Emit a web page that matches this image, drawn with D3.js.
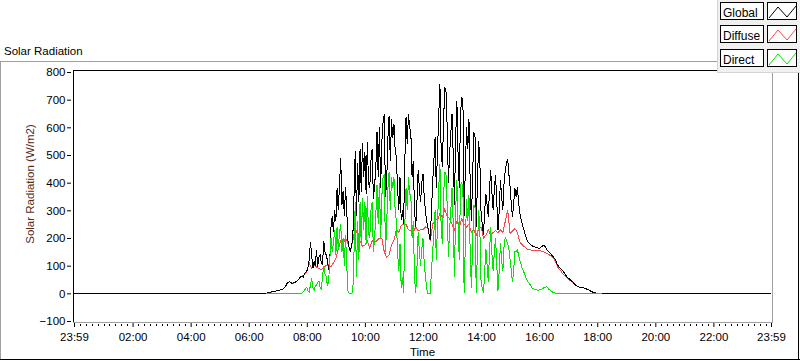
<!DOCTYPE html>
<html>
<head>
<meta charset="utf-8">
<script src="https://cdn.jsdelivr.net/npm/d3@7"></script>
<style>
  body { margin: 0; background: #fff; }
  svg { display: block; font-family: "Liberation Sans", Arial, sans-serif; }
</style>
</head>
<body>
<svg id="chart" width="800" height="361"></svg>
<script>
// all series start at 06:35; global and direct are logged every 2.5 min, diffuse every 5 min
const startMinute = 6 * 60 + 35;
const fastStep = 2.5;
const slowStep = 5;

const globalValues = [
    0, 1, 2, 3, 4, 5, 6, 7, 8, 9,
    10, 11, 12, 13, 14, 18, 22, 30, 38, 40, 42, 38, 36, 40, 38, 42, 45, 50, 55, 60, 62, 58, 72, 76,                   // 07:00
    80, 95, 120, 186, 140, 90, 115, 100, 157, 96, 130, 140, 110, 105, 190, 150, 139, 120, 85, 120, 240, 280, 220, 300,   // 08:00
    260, 380, 300, 390, 488, 320, 370, 280, 385, 300, 190, 165, 155, 170, 200, 350, 516, 280, 470, 330, 520, 366, 545, 420, // 09:00
    510, 360, 546, 400, 380, 480, 523, 340, 390, 450, 582, 420, 600, 380, 546, 620, 648, 350, 400, 560, 642, 480, 630, 560, // 10:00
    612, 520, 492, 380, 300, 420, 265, 300, 250, 480, 636, 540, 648, 600, 576, 420, 480, 300, 240, 330, 444, 380, 330, 400, // 11:00
    432, 350, 300, 260, 240, 215, 192, 300, 400, 480, 564, 380, 516, 640, 756, 520, 456, 620, 744, 732, 600, 400, 500, 580, // 12:00
    648, 500, 320, 560, 696, 500, 380, 650, 708, 696, 280, 450, 600, 520, 630, 400, 260, 420, 582, 564, 240, 400, 552, 480, // 13:00
    288, 250, 210, 300, 360, 320, 276, 380, 444, 360, 300, 380, 426, 330, 228, 300, 408, 350, 300, 400, 444, 470, 486, 430, // 14:00
    384, 320, 276, 330, 380, 350, 384, 330, 290, 270, 252, 235, 220, 205, 192, 185, 180, 176, 172, 170, 168, 166, 165, 164, // 15:00
    163, 165, 168, 172, 174, 168, 160, 155, 150, 145, 140, 136, 130, 124, 115, 105, 98, 92, 88, 84, 78, 72, 65, 60,         // 16:00
    55, 52, 48, 44, 40, 35, 30, 27, 24, 23, 22, 21, 20, 19, 18, 16, 14, 12, 10, 7, 5, 3, 2, 1,                              // 17:00
    0, 0, 0, 0, 0
];

const directValues = [
    0, 0, 0, 0, 0, 0, 0, 0, 0, 0,
    0, 0, 0, 0, 0, 0, 0, 0, 0, 0, 0, 0, 0, 0, 0, 0, 0, 0, 0, 0, 0, 6, 10, 18,
    20, 8, 5, 30, 55, 20, 10, 25, 30, 40, 45, 20, 15, 60, 100, 70, 60, 30, 40, 120, 200, 150, 180, 230,
    140, 240, 160, 220, 252, 150, 200, 100, 210, 100, 10, 0, 0, 0, 5, 150, 330, 60, 260, 120, 330, 170, 345, 230,
    330, 180, 350, 220, 200, 300, 330, 150, 200, 280, 390, 250, 400, 200, 350, 420, 430, 150, 250, 380, 440, 300, 420, 380,
    420, 300, 260, 150, 80, 180, 20, 60, 0, 250, 380, 300, 420, 360, 350, 200, 260, 60, 0, 90, 220, 150, 100, 160,
    200, 110, 60, 20, 0, 0, 0, 80, 150, 220, 300, 120, 250, 380, 468, 240, 180, 350, 440, 430, 320, 130, 230, 300,
    380, 250, 60, 300, 408, 250, 120, 390, 400, 380, 0, 180, 340, 260, 354, 150, 20, 180, 320, 310, 0, 160, 300, 230,
    40, 20, 0, 80, 160, 100, 40, 150, 240, 140, 80, 150, 200, 100, 10, 80, 180, 120, 80, 170, 204, 190, 180, 160,
    120, 80, 40, 90, 150, 150, 156, 140, 120, 105, 90, 80, 70, 58, 48, 40, 35, 28, 20, 18, 15, 13, 12, 12,
    12, 13, 15, 18, 20, 22, 24, 20, 15, 12, 8, 5, 2, 1, 0, 0, 0, 0, 0, 0, 0, 0, 0, 0,
    0, 0, 0, 0, 0, 0, 0, 0, 0, 0, 0, 0, 0, 0, 0, 0, 0, 0, 0, 0, 0, 0, 0, 0,
    0, 0, 0, 0, 0
];

const diffuseValues = [
    0, 2, 4, 6, 8,
    10, 12, 14, 22, 38, 42, 36, 38, 45, 55, 62, 68,             // 07:00
    78, 110, 90, 100, 95, 90, 85, 95, 100, 103, 96, 110,         // 08:00
    127, 160, 190, 175, 200, 180, 150, 190, 235, 215, 190, 170,  // 09:00
    175, 190, 165, 190, 185, 190, 200, 200, 150, 130, 140, 175,  // 10:00
    190, 230, 220, 245, 250, 250, 230, 225, 220, 240, 225, 230,  // 11:00
    230, 240, 235, 190, 250, 264, 266, 288, 276, 304, 280, 270,  // 12:00
    250, 230, 260, 240, 270, 250, 240, 250, 220, 230, 210, 230,  // 13:00
    240, 200, 210, 230, 210, 220, 226, 218, 230, 220, 260, 300,  // 14:00
    216, 225, 234, 220, 186, 175, 168, 160, 158, 156, 156, 155,  // 15:00
    155, 152, 150, 145, 140, 135, 126, 108, 90, 80, 68, 60,      // 16:00
    52, 45, 38, 30, 24, 22, 20, 18, 14, 10, 5, 2,                // 17:00
    0, 0, 0
];

// global sensor reads zero through the night, at both ends of the day
const nightValue = 0;

const seriesNames = ['Global', 'Diffuse', 'Direct'];
const seriesColors = ['#000000', '#ff4646', '#00e600'];

const yTicks = [-100, 0, 100, 200, 300, 400, 500, 600, 700, 800];
const xTickMinutes = [-1, 120, 240, 360, 480, 600, 720, 840, 960, 1080, 1200, 1320, 1439];
const xTickLabels = ['23:59', '02:00', '04:00', '06:00', '08:00', '10:00', '12:00',
    '14:00', '16:00', '18:00', '20:00', '22:00', '23:59'];

const svg = d3.select('#chart');
const textColor = '#000000';

const xScale = d3.scaleLinear().domain([-1, 1439]).range([74, 771]);
const yScale = d3.scaleLinear().domain([-100, 800]).range([321, 72]);

function toPoints(values, step) {
    return values.map((v, i) => ({ t: startMinute + i * step, v: v }));
}

drawFrame();
drawAxes();
drawSeries();
drawLegend();

function drawFrame() {
    svg.append('line').attr('x1', 0).attr('x2', 718).attr('y1', 61.5).attr('y2', 61.5).attr('stroke', '#a0a0a0');
    svg.append('line').attr('x1', 0.5).attr('x2', 0.5).attr('y1', 61).attr('y2', 360).attr('stroke', '#a0a0a0');
    svg.append('line').attr('x1', 0).attr('x2', 800).attr('y1', 359.5).attr('y2', 359.5).attr('stroke', '#000');
    svg.append('line').attr('x1', 798.5).attr('x2', 798.5).attr('y1', 61).attr('y2', 360).attr('stroke', '#000');

    svg.append('text')
        .text('Solar Radiation')
        .attr('x', 4)
        .attr('y', 55)
        .attr('font-size', 11.5)
        .attr('fill', textColor);
}

function drawAxes() {
    // plot area border: dark on top/left, grey on bottom/right
    svg.append('line').attr('x1', 73.5).attr('x2', 73.5).attr('y1', 70).attr('y2', 323).attr('stroke', '#000');
    svg.append('line').attr('x1', 73).attr('x2', 773).attr('y1', 70.5).attr('y2', 70.5).attr('stroke', '#000');
    svg.append('line').attr('x1', 772.5).attr('x2', 772.5).attr('y1', 71).attr('y2', 323).attr('stroke', '#a0a0a0');
    svg.append('line').attr('x1', 73).attr('x2', 773).attr('y1', 322.5).attr('y2', 322.5).attr('stroke', '#a0a0a0');

    const yAxis = svg.append('g').attr('class', 'y axis').attr('transform', 'translate(71,0)')
        .call(d3.axisLeft(yScale).tickValues(yTicks).tickSizeInner(4).tickSizeOuter(0).tickPadding(1.5));
    yAxis.select('.domain').remove();
    yAxis.selectAll('.tick text').attr('font-size', 11.5).attr('font-family', null).attr('fill', textColor);

    const xAxis = svg.append('g').attr('class', 'x axis').attr('transform', 'translate(0,323)')
        .call(d3.axisBottom(xScale).tickValues(xTickMinutes).tickFormat((d, i) => xTickLabels[i])
            .tickSizeInner(4).tickSizeOuter(0).tickPadding(6));
    xAxis.select('.domain').remove();
    xAxis.selectAll('.tick text').attr('font-size', 11.5).attr('font-family', null).attr('fill', textColor);

    const minor = d3.range(12, 1440, 12).filter(m => m % 120 !== 0);
    xAxis.selectAll('line.minor')
        .data(minor)
        .enter()
        .append('line')
        .attr('class', 'minor')
        .attr('x1', d => Math.round(xScale(d)) + 0.5)
        .attr('x2', d => Math.round(xScale(d)) + 0.5)
        .attr('y1', 1)
        .attr('y2', 3)
        .attr('stroke', '#000');

    svg.append('text')
        .text('Solar Radiation (W/m2)')
        .attr('transform', 'translate(30,184),rotate(-90)')
        .attr('text-anchor', 'middle')
        .attr('dominant-baseline', 'central')
        .attr('font-size', 11.5)
        .attr('fill', '#5a2a14');

    svg.append('text')
        .text('Time')
        .attr('x', (xScale.range()[0] + xScale.range()[1]) / 2)
        .attr('y', 356)
        .attr('text-anchor', 'middle')
        .attr('font-size', 11.5)
        .attr('fill', textColor);
}

function drawSeries() {
    const line = d3.line()
        .x(d => xScale(d.t))
        .y(d => yScale(d.v));

    const globalPoints = [{ t: -1, v: nightValue }]
        .concat(toPoints(globalValues, fastStep))
        .concat([{ t: 1439, v: nightValue }]);

    const data = [
        { name: 'Diffuse', points: toPoints(diffuseValues, slowStep), color: seriesColors[1] },
        { name: 'Global', points: globalPoints, color: seriesColors[0] },
        { name: 'Direct', points: toPoints(directValues, fastStep), color: seriesColors[2] }
    ];

    svg.append('g').attr('class', 'lines')
        .selectAll('path')
        .data(data)
        .enter()
        .append('path')
        .attr('d', d => line(d.points))
        .attr('fill', 'none')
        .attr('stroke', d => d.color)
        .attr('stroke-width', 1)
        .attr('shape-rendering', 'crispEdges');
}

function drawLegend() {
    const legend = svg.append('g').attr('class', 'legend');

    legend.append('rect')
        .attr('x', 717.5).attr('y', -1)
        .attr('width', 84).attr('height', 73.5)
        .attr('fill', '#f0f0f0')
        .attr('stroke', '#d4d4d4');

    const rowY = i => 2.5 + Math.round(23.3 * i);

    const rows = legend.selectAll('g.item')
        .data(seriesNames)
        .enter()
        .append('g')
        .attr('class', 'item')
        .attr('transform', (d, i) => 'translate(0,' + rowY(i) + ')');

    rows.append('rect')
        .attr('x', 720.5).attr('y', 0)
        .attr('width', 43).attr('height', 17)
        .attr('fill', '#fff').attr('stroke', '#000');

    rows.append('text')
        .text(d => d)
        .attr('x', 723)
        .attr('y', 14.5)
        .attr('font-size', 12)
        .attr('fill', textColor);

    rows.append('rect')
        .attr('x', 767.5).attr('y', 0)
        .attr('width', 29).attr('height', 17)
        .attr('fill', '#fff').attr('stroke', '#000');

    rows.append('path')
        .attr('d', 'M769,15.5L778,4.5L787,14.5L796,3.5')
        .attr('fill', 'none')
        .attr('stroke', (d, i) => seriesColors[i]);
}
</script>
</body>
</html>
